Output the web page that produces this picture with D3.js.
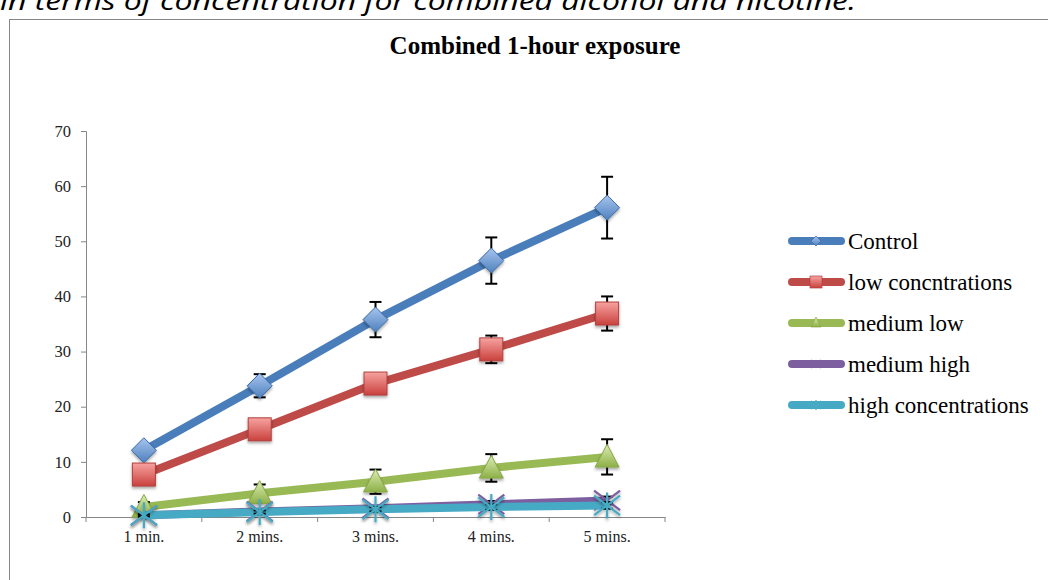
<!DOCTYPE html>
<html><head><meta charset="utf-8">
<script src="https://cdn.jsdelivr.net/npm/d3@7"></script>
<style>body{margin:0;background:#fff;}svg{display:block;}</style>
</head><body>
<svg id="c" width="1048" height="580"></svg>
<script>
const categories = ["1 min.", "2 mins.", "3 mins.", "4 mins.", "5 mins."];
const seriesNames = ["Control", "low concntrations", "medium low", "medium high", "high concentrations"];
const controlVals = [12.1, 23.8, 35.8, 46.5, 56.1];
const controlErr  = [1.0, 2.1, 3.2, 4.2, 5.6];
const lowVals = [7.7, 15.9, 24.2, 30.4, 36.9];
const lowErr  = [1.0, 1.2, 1.4, 2.5, 3.1];
const medLowVals = [1.8, 4.3, 6.4, 8.9, 10.9];
const medLowErr  = [0.9, 1.6, 2.2, 2.5, 3.2];
const medHighVals = [0.3, 1.0, 1.6, 2.3, 3.0];
const medHighErr  = [0.2, 0.3, 0.4, 0.6, 0.7];
const highVals = [0.3, 0.9, 1.4, 1.8, 2.1];
const highErr  = [0.2, 0.3, 0.4, 0.5, 0.6];
const yTicks = [0, 10, 20, 30, 40, 50, 60, 70];

const series = [
  {name: seriesNames[0], vals: controlVals, err: controlErr, line: "#4A7EBB", light: "#A7C5EF", dark: "#4F81BD", marker: "diamond"},
  {name: seriesNames[1], vals: lowVals, err: lowErr, line: "#BE4B48", light: "#F7A3A1", dark: "#C9413D", marker: "square"},
  {name: seriesNames[2], vals: medLowVals, err: medLowErr, line: "#98B954", light: "#DCEDB5", dark: "#8DB046", marker: "triangle"},
  {name: seriesNames[3], vals: medHighVals, err: medHighErr, line: "#7D5FA0", light: "#B9A4D3", dark: "#7D5FA0", marker: "x"},
  {name: seriesNames[4], vals: highVals, err: highErr, line: "#46AAC5", light: "#93D3E5", dark: "#46AAC5", marker: "star"}
];

const svg = d3.select("#c");
const defs = svg.append("defs");
series.forEach((s, i) => {
  const g = defs.append("linearGradient").attr("id", "g" + i).attr("x1", 0).attr("y1", 0).attr("x2", 0).attr("y2", 1);
  g.append("stop").attr("offset", "0%").attr("stop-color", s.light);
  g.append("stop").attr("offset", "100%").attr("stop-color", s.dark);
});
const f = defs.append("filter").attr("id", "sh").attr("x", "-50%").attr("y", "-50%").attr("width", "200%").attr("height", "200%");
f.append("feDropShadow").attr("dx", 0).attr("dy", 2).attr("stdDeviation", 1.5).attr("flood-color", "#000").attr("flood-opacity", 0.35);

// top cut-off sentence
svg.append("text").attr("x", 0).attr("y", 10)
  .attr("font-family", "Open Sans, sans-serif").attr("font-style", "italic")
  .attr("font-size", 26).attr("fill", "#000")
  .attr("textLength", 856).attr("lengthAdjust", "spacingAndGlyphs")
  .text("in terms of concentration for combined alcohol and nicotine.");

// chart frame
svg.append("rect").attr("x", 9.5).attr("y", 19.5).attr("width", 1100).attr("height", 700)
  .attr("fill", "none").attr("stroke", "#868686").attr("stroke-width", 1);

svg.append("text").attr("x", 535).attr("y", 54).attr("text-anchor", "middle")
  .attr("font-family", "Liberation Serif, serif").attr("font-weight", "bold").attr("font-size", 25)
  .text("Combined 1-hour exposure");

const x = d3.scaleBand().domain(categories).range([86, 665]).padding(0);
const y = d3.scaleLinear().domain([0, 70]).range([517, 131]);
const cx = d => x(d) + x.bandwidth() / 2;

// y axis
const ya = svg.append("g").attr("transform", "translate(86,0)")
  .call(d3.axisLeft(y).tickValues(yTicks).tickSize(5).tickPadding(10));
ya.select(".domain").attr("stroke", "#868686");
ya.selectAll(".tick line").attr("stroke", "#868686");
ya.selectAll("text").attr("font-family", "Liberation Serif, serif").attr("font-size", 16.5).attr("fill", "#222");

// x axis
const xa = svg.append("g").attr("transform", "translate(0,517)")
  .call(d3.axisBottom(x).tickSize(0).tickPadding(14).tickSizeOuter(0));
xa.select(".domain").attr("stroke", "#868686");
xa.selectAll("text").attr("font-family", "Liberation Serif, serif").attr("font-size", 16).attr("fill", "#222");
const bounds = categories.map(c => x(c)).concat([x(categories[categories.length - 1]) + x.bandwidth()]);
svg.append("g").selectAll("line").data(bounds).join("line")
  .attr("x1", d => d).attr("x2", d => d).attr("y1", 517).attr("y2", 522)
  .attr("stroke", "#868686");

const lineGen = d3.line().x((d, i) => cx(categories[i])).y(d => y(d));

function drawMarker(g, type, i, size) {
  const r = size / 2;
  if (type === "diamond") {
    g.append("path").attr("d", `M0,${-r}L${r},0L0,${r}L${-r},0Z`)
      .attr("fill", `url(#g${i})`).attr("stroke", "#3A6BA8").attr("stroke-width", 1).attr("filter", "url(#sh)");
  } else if (type === "square") {
    g.append("rect").attr("x", -r).attr("y", -r).attr("width", size).attr("height", size)
      .attr("fill", `url(#g${i})`).attr("stroke", "#B0403D").attr("stroke-width", 1).attr("filter", "url(#sh)");
  } else if (type === "triangle") {
    g.append("path").attr("d", `M0,${-r * 1.05}L${r},${r * 0.85}L${-r},${r * 0.85}Z`)
      .attr("fill", `url(#g${i})`).attr("stroke", "#88A848").attr("stroke-width", 1).attr("filter", "url(#sh)");
  } else if (type === "x" || type === "star") {
    const col = series[i].line;
    const p = `M${-r},${-r * 0.75}L${r},${r * 0.75}M${-r},${r * 0.75}L${r},${-r * 0.75}` + (type === "star" ? `M0,${-r}L0,${r}` : "");
    g.append("path").attr("d", p).attr("stroke", col).attr("stroke-width", 2.2).attr("fill", "none").attr("filter", "url(#sh)");
  }
}

const msize = [25, 23, 24, 26, 26];

series.forEach((s, i) => {
  const g = svg.append("g");
  g.append("path").datum(s.vals).attr("d", lineGen)
    .attr("fill", "none").attr("stroke", s.line).attr("stroke-width", 8).attr("stroke-linejoin", "round");
  const eb = g.append("g");
  s.vals.forEach((v, j) => {
    const px = cx(categories[j]);
    const e = eb.append("g").attr("stroke", "#000").attr("stroke-width", 2);
    e.append("line").attr("x1", px).attr("x2", px).attr("y1", y(v + s.err[j])).attr("y2", y(v - s.err[j]));
    e.append("line").attr("x1", px - 6).attr("x2", px + 6).attr("y1", y(v + s.err[j])).attr("y2", y(v + s.err[j]));
    e.append("line").attr("x1", px - 6).attr("x2", px + 6).attr("y1", y(v - s.err[j])).attr("y2", y(v - s.err[j]));
  });
  s.vals.forEach((v, j) => {
    const mg = g.append("g").attr("transform", `translate(${cx(categories[j])},${y(v)})`);
    drawMarker(mg, s.marker, i, msize[i]);
  });
});

// legend
const leg = svg.append("g");
series.forEach((s, i) => {
  const ly = 241 + i * 41;
  const lg = leg.append("g");
  lg.append("line").attr("x1", 792).attr("x2", 841).attr("y1", ly).attr("y2", ly)
    .attr("stroke", s.line).attr("stroke-width", 8).attr("stroke-linecap", "round");
  const mg = lg.append("g").attr("transform", `translate(816,${ly})`);
  if (s.marker === "diamond") {
    mg.append("path").attr("d", "M0,-5L5,0L0,5L-5,0Z").attr("fill", `url(#g${i})`).attr("stroke", "#3A6BA8").attr("stroke-width", 0.7);
  } else if (s.marker === "square") {
    mg.append("rect").attr("x", -6).attr("y", -6).attr("width", 12).attr("height", 12).attr("fill", `url(#g${i})`).attr("stroke", "#B0403D").attr("stroke-width", 0.7);
  } else if (s.marker === "triangle") {
    mg.append("path").attr("d", "M0,-6L5,4L-5,4Z").attr("fill", `url(#g${i})`).attr("stroke", "#88A848").attr("stroke-width", 0.7);
  } else {
    const p = "M-5,-4L5,4M-5,4L5,-4" + (s.marker === "star" ? "M0,-5L0,5" : "");
    mg.append("path").attr("d", p).attr("stroke", s.line).attr("stroke-width", 1.2).attr("fill", "none");
  }
  lg.append("text").attr("x", 848).attr("y", ly + 7.5)
    .attr("font-family", "Liberation Serif, serif").attr("font-size", 23).attr("fill", "#000")
    .text(s.name);
});
</script>
</body></html>
